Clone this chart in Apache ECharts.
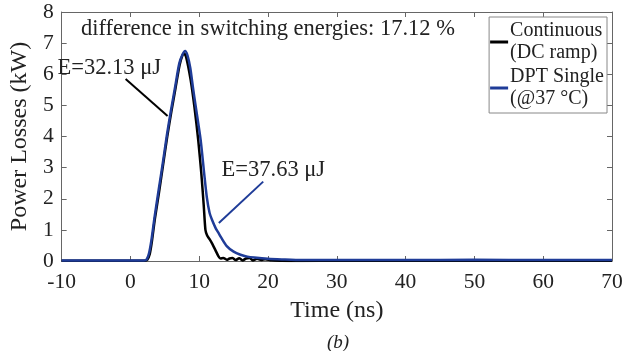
<!DOCTYPE html>
<html>
<head>
<meta charset="utf-8" />
<title>Power Losses</title>
<script src="https://cdn.jsdelivr.net/npm/echarts@6/dist/echarts.min.js"></script>
<style>
  html, body { margin: 0; padding: 0; background: #fff; }
  #chart { width: 636px; height: 351px; }
</style>
</head>
<body>
<div id="chart"></div>
<script>
// time (ns) and power (kW)
const tCont = [-10, 0, 2.1, 2.45, 2.8, 3.1, 3.55, 4.15, 4.75, 5.35, 5.95, 6.55, 7.15, 7.55, 7.8, 8.1, 8.75, 9.3, 9.85, 10.3, 10.65, 10.9, 11.15, 11.5, 11.9, 12.35, 12.8, 13.1, 13.5, 14.0, 14.4, 14.8, 15.3, 15.8, 16.3, 16.8, 17.3, 17.8, 18.4, 19.0, 19.6, 20.5, 22, 25, 30, 40, 50, 60, 70];
const pCont = [0.01, 0.01, 0.01, 0.04, 0.22, 0.6, 1.35, 2.2, 3.1, 4.0, 4.8, 5.55, 6.3, 6.6, 6.67, 6.55, 5.82, 4.95, 3.89, 2.82, 1.8, 1.0, 0.82, 0.7, 0.55, 0.35, 0.15, 0.08, 0.1, 0.04, 0.08, 0.1, 0.03, 0.09, 0.02, 0.08, 0.1, 0.02, 0.07, 0.03, 0.06, 0.02, 0.01, 0.0, 0.01, 0.01, 0.01, 0.01, 0.01];

const tDpt = [-10, 0, 2.0, 2.35, 2.7, 3.05, 3.5, 4.1, 4.7, 5.3, 5.9, 6.5, 7.1, 7.6, 7.95, 8.3, 8.7, 9.1, 9.5, 10.2, 10.7, 11.1, 11.5, 11.9, 12.4, 12.8, 13.2, 14.0, 15.0, 16.0, 17.0, 18.0, 20.0, 22.0, 25.0, 30, 40, 50, 60, 70];
const pDpt = [0.02, 0.02, 0.02, 0.05, 0.25, 0.67, 1.4, 2.28, 3.14, 4.05, 4.85, 5.6, 6.35, 6.65, 6.75, 6.6, 6.2, 5.55, 4.95, 3.9, 2.85, 2.05, 1.55, 1.3, 1.05, 0.9, 0.75, 0.48, 0.3, 0.2, 0.14, 0.11, 0.07, 0.05, 0.03, 0.03, 0.03, 0.04, 0.03, 0.03];

const legendNames = ['Continuous\n(DC ramp)', 'DPT Single\n(@37 °C)'];
const energyText = ['E=32.13 μJ', 'E=37.63 μJ'];
const diffText = 'difference in switching energies: 17.12 %';

const FONT = '"Liberation Serif", "Times New Roman", serif';
const BLUE = '#1f3c98';
const AXIS = '#666';

function pairs(t, p) {
  return t.map(function (x, i) { return [x, p[i]]; });
}

const chart = echarts.init(document.getElementById('chart'));

const boxAxis = {
  axisLine: { show: true, onZero: false, lineStyle: { color: AXIS, width: 1 } },
  axisTick: { show: true, inside: true, length: 5, lineStyle: { color: AXIS } },
  axisLabel: { show: false },
  splitLine: { show: false }
};

// label sitting just right of its anchor point
const noteLabel = {
  show: true, position: 'right', distance: 0, offset: [-10, 0],
  fontFamily: FONT, fontSize: 22.5, color: '#222',
  formatter: function (p) { return p.name; }
};

chart.setOption({
  animation: false,
  textStyle: { fontFamily: FONT },
  title: {
    text: '(b)',
    left: 322,
    top: 328,
    textStyle: { fontFamily: FONT, fontStyle: 'italic', fontWeight: 'normal', fontSize: 19, color: '#222' }
  },
  grid: { left: 52, right: 24, top: 12, bottom: 90 },
  legend: {
    orient: 'vertical',
    right: 29,
    top: 17,
    backgroundColor: '#fff',
    borderColor: '#888',
    borderWidth: 1,
    padding: [3, 3, 3, 1],
    itemGap: 2,
    itemWidth: 18,
    itemHeight: 3,
    icon: 'rect',
    textStyle: { fontFamily: FONT, fontSize: 20, lineHeight: 22, color: '#222', padding: [0, 0, 0, -3] },
    data: legendNames
  },
  xAxis: [
    Object.assign({}, boxAxis, {
      type: 'value', min: -10, max: 70, interval: 10,
      axisLabel: { show: true, margin: 10, fontSize: 21.5, color: '#222', fontFamily: FONT },
      name: 'Time (ns)', nameLocation: 'middle', nameGap: 38,
      nameTextStyle: { fontSize: 24, color: '#222', fontFamily: FONT }
    }),
    Object.assign({}, boxAxis, { type: 'value', min: -10, max: 70, interval: 10, position: 'top' })
  ],
  yAxis: [
    Object.assign({}, boxAxis, {
      type: 'value', min: 0, max: 8, interval: 1,
      axisLabel: { show: true, margin: 8, fontSize: 21.5, color: '#222', fontFamily: FONT },
      name: 'Power Losses (kW)', nameLocation: 'middle', nameGap: 18,
      nameTextStyle: { fontSize: 24, color: '#222', fontFamily: FONT }
    }),
    Object.assign({}, boxAxis, { type: 'value', min: 0, max: 8, interval: 1, position: 'right' })
  ],
  series: [
    {
      name: legendNames[0],
      type: 'line',
      data: pairs(tCont, pCont),
      showSymbol: false,
      smooth: 0.25,
      lineStyle: { color: '#000', width: 2.5 },
      itemStyle: { color: '#000' },
      markLine: {
        silent: true, symbol: 'none',
        label: { show: false },
        lineStyle: { color: '#000', width: 2, type: 'solid' },
        data: [[{ coord: [-0.7, 5.85] }, { coord: [5.4, 4.66] }]]
      },
      markPoint: {
        silent: true, symbol: 'circle', symbolSize: 0,
        label: noteLabel,
        data: [
          { name: energyText[0], coord: [-9.15, 6.2] },
          { name: diffText, coord: [-5.75, 7.45] }
        ]
      }
    },
    {
      name: legendNames[1],
      type: 'line',
      data: pairs(tDpt, pDpt),
      showSymbol: false,
      smooth: 0.25,
      lineStyle: { color: BLUE, width: 2.5 },
      itemStyle: { color: BLUE },
      markLine: {
        silent: true, symbol: 'none',
        label: { show: false },
        lineStyle: { color: BLUE, width: 2, type: 'solid' },
        data: [[{ coord: [12.85, 1.22] }, { coord: [19.3, 2.55] }]]
      },
      markPoint: {
        silent: true, symbol: 'circle', symbolSize: 0,
        label: noteLabel,
        data: [{ name: energyText[1], coord: [14.7, 2.93] }]
      }
    }
  ]
});

window.onresize = function () { chart.resize(); };
</script>
</body>
</html>
